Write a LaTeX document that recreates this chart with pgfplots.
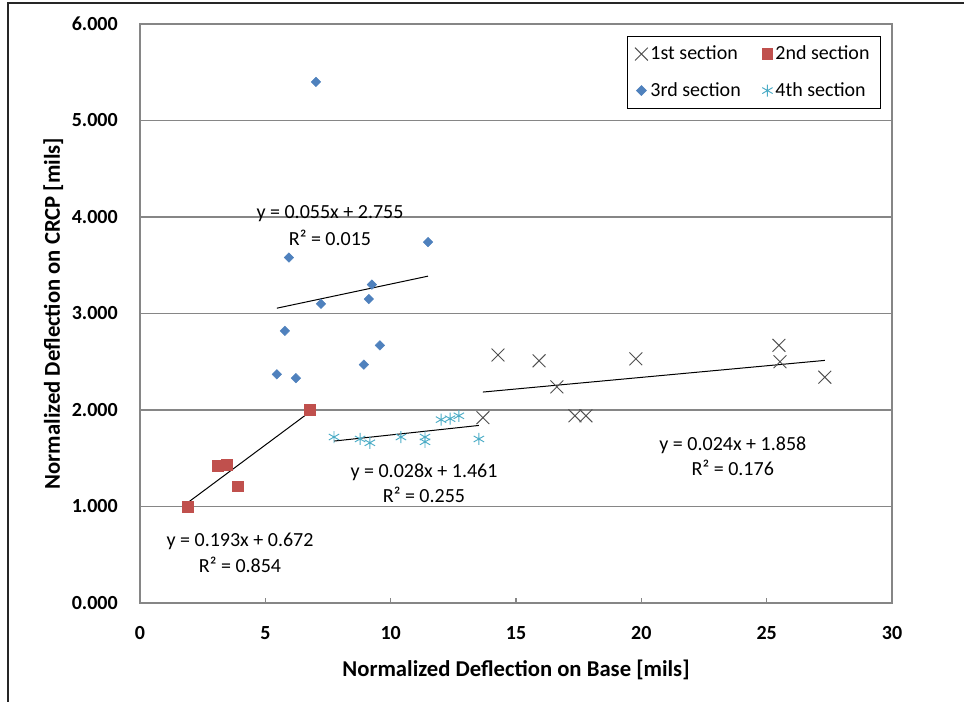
\documentclass[border=0pt]{standalone}
\usepackage{pgfplots}
\pgfplotsset{compat=1.18}
\usepackage{fontspec}
\setmainfont{Carlito}
\definecolor{sec1}{HTML}{505050}
\definecolor{sec2}{HTML}{C0504D}
\definecolor{sec3}{HTML}{4F81BD}
\definecolor{sec4}{HTML}{4BACC6}
\definecolor{gridc}{HTML}{868686}
\begin{document}
\begin{tikzpicture}
\useasboundingbox (-105pt,-74.25pt) rectangle (618pt,452.25pt);
\draw[line width=0.9pt, black!85] (-99pt,-80pt) -- (-99pt,450pt) -- (630pt,450pt);
\begin{axis}[
  at={(0pt,0pt)}, anchor=south west,
  scale only axis, width=564pt, height=434.25pt,
  xmin=0, xmax=30, ymin=0, ymax=6,
  xtick={0,5,...,30}, ytick={0,1,...,6},
  axis line style={draw=gridc, line width=1.1pt},
  ymajorgrids, major grid style={draw=gridc, line width=1.1pt},
  tick align=inside, xtick pos=bottom, ytick pos=left,
  x tick style={draw=gridc, line width=0.8pt}, major tick length=4pt,
  y tick style={draw=none},
  /pgf/number format/assume math mode=true,
  ticklabel style={font=\fontsize{15}{18}\selectfont\bfseries},
  y tick label style={/pgf/number format/fixed, /pgf/number format/fixed zerofill, /pgf/number format/precision=3, anchor=east, inner sep=0pt, xshift=-16.5pt},
  x tick label style={anchor=center, inner sep=0pt, yshift=-22.5pt},
  xlabel={Normalized Deflection on Base [mils]},
  ylabel={Normalized Deflection on CRCP [mils]},
  label style={font=\fontsize{17}{20}\selectfont\bfseries},
  xlabel style={at={(axis description cs:0.5,-0.1157)}, anchor=center},
  ylabel style={at={(axis description cs:-0.1152,0.5)}, anchor=center},
  legend columns=2,
  legend cell align=left,
  legend style={at={(axis description cs:0.985,0.98)}, anchor=north east,
    draw=black, line width=0.75pt, font=\fontsize{15}{18}\selectfont,
    inner xsep=6pt, inner ysep=5.5pt,
    /tikz/every even column/.append style={column sep=14pt},
    /tikz/every odd row/.append style={row sep=11.5pt}},
  legend image code/.code={\draw[#1] plot coordinates {(0.25cm,0cm)};},
]
% 1st section
\addplot[only marks, mark=x, mark size=6.8pt, draw=sec1, line width=0.7pt] coordinates {
 (13.68,1.92) (14.28,2.57) (15.92,2.51) (16.63,2.24) (17.35,1.94) (17.79,1.94)
 (19.78,2.53) (25.49,2.67) (25.53,2.50) (27.32,2.34)};
\addlegendentry{1st section}
% 2nd section
\addplot[only marks, mark=square*, mark size=4pt, draw=sec2, fill=sec2] coordinates {
 (1.91,1.00) (3.11,1.42) (3.47,1.43) (3.91,1.21) (6.78,2.00)};
\addlegendentry{2nd section}
% 3rd section
\addplot[only marks, mark=square*, mark size=2.5pt, mark options={rotate=45}, draw=sec3, fill=sec3] coordinates {
 (7.02,5.40) (5.94,3.58) (11.49,3.74) (9.25,3.30) (9.13,3.15) (7.22,3.10)
 (5.78,2.82) (9.57,2.67) (8.93,2.47) (5.46,2.37) (6.22,2.33)};
\addlegendentry{3rd section}
% 4th section
\addplot[only marks, mark=asterisk, mark size=4.5pt, draw=sec4, line width=0.7pt] coordinates {
 (7.74,1.72) (8.78,1.70) (9.17,1.66) (10.41,1.72) (11.37,1.72) (11.37,1.67)
 (12.01,1.90) (12.37,1.91) (12.72,1.94) (13.52,1.70)};
\addlegendentry{4th section}
% trend lines
\addplot[black, line width=0.75pt, no marks, forget plot] coordinates {(5.46,3.055) (11.49,3.387)};
\addplot[black, line width=0.75pt, no marks, forget plot] coordinates {(1.91,1.041) (6.78,1.981)};
\addplot[black, line width=0.75pt, no marks, forget plot] coordinates {(7.74,1.678) (13.52,1.840)};
\addplot[black, line width=0.75pt, no marks, forget plot] coordinates {(13.68,2.186) (27.32,2.514)};
\begin{scope}[every node/.style={font=\fontsize{15}{18}\selectfont, inner sep=0pt}]
\node at (axis cs:7.58,4.04) {y = 0.055x + 2.755};
\node at (axis cs:7.58,3.78) {R² = 0.015};
\node at (axis cs:3.99,0.64) {y = 0.193x + 0.672};
\node at (axis cs:3.99,0.39) {R² = 0.854};
\node at (axis cs:11.33,1.35) {y = 0.028x + 1.461};
\node at (axis cs:11.33,1.12) {R² = 0.255};
\node at (axis cs:23.65,1.63) {y = 0.024x + 1.858};
\node at (axis cs:23.65,1.40) {R² = 0.176};
\end{scope}
\end{axis}
\end{tikzpicture}
\end{document}
